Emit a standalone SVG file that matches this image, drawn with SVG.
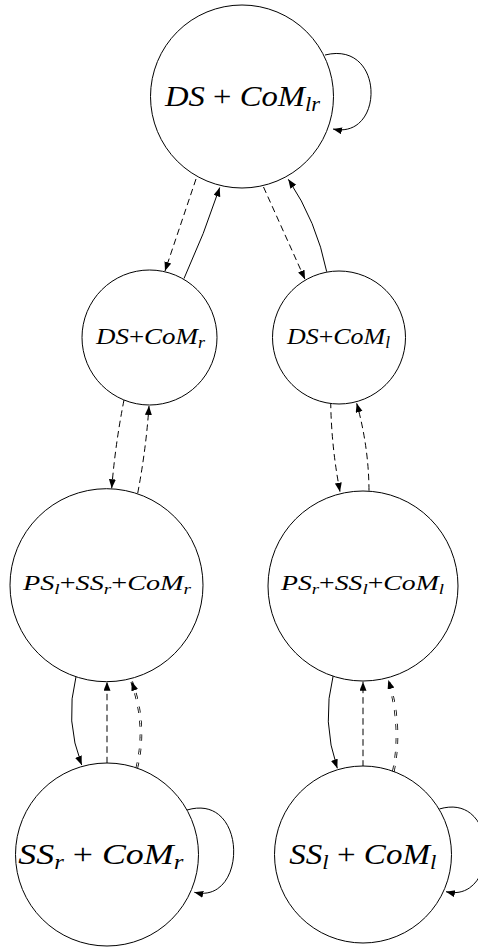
<svg xmlns="http://www.w3.org/2000/svg" width="478" height="947" viewBox="0 0 478 947">
<style>
.node{fill:#fff;stroke:#000;stroke-width:1}
.lbl{font-family:"Liberation Serif","Times New Roman",serif;font-style:italic;font-weight:normal;fill:#000}
.op{font-style:normal}
.e{fill:none;stroke:#000;stroke-width:1}
.d{stroke-dasharray:6.5 4}
.dbo{fill:none;stroke:#000;stroke-width:2.6;stroke-dasharray:6 8}
.dbi{fill:none;stroke:#fff;stroke-width:1;stroke-dasharray:6 8}
</style>
<defs>
<marker id="arr" markerUnits="userSpaceOnUse" markerWidth="10" markerHeight="8" refX="9" refY="3.5" orient="auto">
<path d="M0,0 L9,3.5 L0,7 z" fill="#000"/>
</marker>
</defs>
<rect width="478" height="947" fill="#fff"/>
<g id="connectors">
<path class="e" d="M325,55 C385,40 385,140 333,129" marker-end="url(#arr)"/>
<path class="e d" d="M196,179 L165,271" marker-end="url(#arr)"/>
<path class="e" d="M184,278.5 Q204.5,234 219.7,187.5" marker-end="url(#arr)"/>
<path class="e d" d="M263.5,187 L305,279.3" marker-end="url(#arr)"/>
<path class="e" d="M326.7,271.7 Q316.7,221.7 288.3,179.3" marker-end="url(#arr)"/>
<path class="e d" d="M124,400 Q115.3,444 111.7,488.3" marker-end="url(#arr)"/>
<path class="e d" d="M137.7,493.3 Q146,449.5 149,406" marker-end="url(#arr)"/>
<path class="e d" d="M330.7,401.7 Q331.3,446.7 340,491.7" marker-end="url(#arr)"/>
<path class="e d" d="M369,490.7 Q368.8,447 356.7,403.3" marker-end="url(#arr)"/>
<path class="e" d="M76,676.7 Q64.6,721 81.7,765" marker-end="url(#arr)"/>
<path class="e d" d="M107,763.3 L107,681.7" marker-end="url(#arr)"/>
<path class="dbo" d="M136.7,768.3 Q147.2,725 131.7,681.7"/>
<path class="dbi" d="M136.7,768.3 Q147.2,725 131.7,681.7"/>
<path fill="none" stroke="none" d="M136.7,768.3 Q147.2,725 131.7,681.7" marker-end="url(#arr)"/>
<path class="e" d="M187,810 C248,792 248,905 194.3,892.3" marker-end="url(#arr)"/>
<path class="e" d="M333.3,675 Q321.3,722 337.3,768.3" marker-end="url(#arr)"/>
<path class="e d" d="M363,766.7 L363,681.7" marker-end="url(#arr)"/>
<path class="dbo" d="M393.3,771.7 Q402.6,726 388.3,680"/>
<path class="dbi" d="M393.3,771.7 Q402.6,726 388.3,680"/>
<path fill="none" stroke="none" d="M393.3,771.7 Q402.6,726 388.3,680" marker-end="url(#arr)"/>
<path class="e" d="M439.3,809 C500,791 500,904 446,891.7" marker-end="url(#arr)"/>
</g>
<g id="n_ds_lr">
<circle class="node" cx="242" cy="96.5" r="91.5"/>
<text class="lbl" x="165" y="106" font-size="29" textLength="155" lengthAdjust="spacingAndGlyphs">DS <tspan class="op">+</tspan> CoM<tspan font-size="20" dy="5">lr</tspan></text>
</g>
<g id="n_ds_r">
<circle class="node" cx="149.5" cy="337.5" r="67.5"/>
<text class="lbl" x="96" y="344" font-size="24" textLength="109" lengthAdjust="spacingAndGlyphs">DS<tspan class="op">+</tspan>CoM<tspan font-size="16" dy="4">r</tspan></text>
</g>
<g id="n_ds_l">
<circle class="node" cx="339" cy="337.5" r="66.5"/>
<text class="lbl" x="287" y="343.5" font-size="24" textLength="103" lengthAdjust="spacingAndGlyphs">DS<tspan class="op">+</tspan>CoM<tspan font-size="16" dy="4">l</tspan></text>
</g>
<g id="n_ps_l">
<circle class="node" cx="106.5" cy="585.2" r="96.5"/>
<text class="lbl" x="23" y="590" font-size="22" textLength="168" lengthAdjust="spacingAndGlyphs">PS<tspan font-size="15" dy="4">l</tspan><tspan class="op" dy="-4">+</tspan>SS<tspan font-size="15" dy="4">r</tspan><tspan class="op" dy="-4">+</tspan>CoM<tspan font-size="15" dy="4">r</tspan></text>
</g>
<g id="n_ps_r">
<circle class="node" cx="363" cy="586" r="95"/>
<text class="lbl" x="281" y="590" font-size="22" textLength="163" lengthAdjust="spacingAndGlyphs">PS<tspan font-size="15" dy="4">r</tspan><tspan class="op" dy="-4">+</tspan>SS<tspan font-size="15" dy="4">l</tspan><tspan class="op" dy="-4">+</tspan>CoM<tspan font-size="15" dy="4">l</tspan></text>
</g>
<g id="n_ss_r">
<circle class="node" cx="107" cy="854.5" r="91.5"/>
<text class="lbl" x="18.3" y="864" font-size="29" textLength="165" lengthAdjust="spacingAndGlyphs">SS<tspan font-size="20" dy="5">r</tspan><tspan class="op" dy="-5"> + </tspan>CoM<tspan font-size="20" dy="5">r</tspan></text>
</g>
<g id="n_ss_l">
<circle class="node" cx="363" cy="854.5" r="88.5"/>
<text class="lbl" x="289.3" y="864" font-size="29" textLength="147" lengthAdjust="spacingAndGlyphs">SS<tspan font-size="20" dy="5">l</tspan><tspan class="op" dy="-5"> + </tspan>CoM<tspan font-size="20" dy="5">l</tspan></text>
</g>
</svg>
